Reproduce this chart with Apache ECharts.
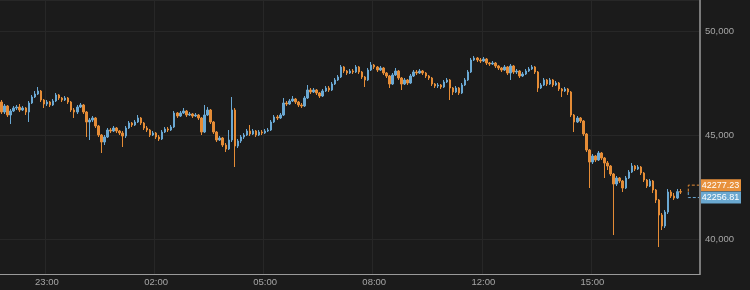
<!DOCTYPE html>
<html><head><meta charset="utf-8">
<script src="https://cdn.jsdelivr.net/npm/echarts@6/dist/echarts.min.js"></script>
<style>html,body{margin:0;padding:0;background:#1b1b1b;}#c{width:750px;height:290px;}</style>
</head><body><div id="c"></div>
<script>
// OHLC, 5-minute bars
const opens = [46586,46105,46394,45961,46153,46297,46345,46201,46297,46105,
46538,46826,46970,47115,46682,46490,46586,46442,46634,46922,
46778,46682,46778,46586,46201,46105,46345,46442,46105,45624,
45720,45817,45432,44999,44663,44903,45240,45192,45336,45192,
45095,44951,45336,45576,45480,45624,45817,45576,45336,45240,
44999,45095,44903,44807,45143,45288,45240,45384,46057,45913,
46057,46153,45961,46009,45913,45961,45817,45143,45961,46201,
45624,45143,44759,44855,44518,44326,44759,46201,44470,44711,
44903,44999,45192,45047,45192,44999,45143,45095,45192,45240,
45624,45865,45817,45961,46538,46490,46634,46730,46586,46442,
46394,46778,47163,47067,47163,47019,46874,47115,47259,47163,
47451,47644,47788,48269,48076,47980,48076,48028,48269,48028,
47788,47644,48124,48365,48269,48124,48221,47980,47836,47451,
47884,48076,47740,47451,47644,47499,47836,48028,47980,48076,
47980,47836,47740,47451,47355,47403,47307,47547,47644,47259,
47067,47259,47019,47403,47644,48028,48605,48701,48605,48557,
48653,48461,48413,48461,48317,48221,48124,48269,47980,48317,
48028,48076,47836,47932,48076,48172,48269,48028,47259,47403,
47644,47451,47644,47403,47499,47211,47115,47211,47067,45961,
45624,45817,45672,45047,44278,43701,43990,43797,44134,43893,
43653,43509,43124,42643,42932,42788,42451,42932,43220,43509,
43364,43461,43172,42836,42547,42788,42355,41874,41153,40624,
41297,42259,42066,41970,42277.23];
const closes = [46105,46394,45961,46153,46297,46345,46201,46297,46105,46538,
46826,46970,47115,46682,46490,46586,46442,46634,46922,46778,
46682,46778,46586,46201,46105,46345,46442,46105,45624,45720,
45817,45432,44999,44663,44903,45240,45192,45336,45192,45095,
44951,45336,45576,45480,45624,45817,45576,45336,45240,44999,
45095,44903,44807,45143,45288,45240,45384,46057,45913,46057,
46153,45961,46009,45913,45961,45817,45143,45961,46201,45624,
45143,44759,44855,44518,44326,44759,46201,44470,44711,44903,
44999,45192,45047,45192,44999,45143,45095,45192,45240,45624,
45865,45817,45961,46538,46490,46634,46730,46586,46442,46394,
46778,47163,47067,47163,47019,46874,47115,47259,47163,47451,
47644,47788,48269,48076,47980,48076,48028,48269,48028,47788,
47644,48124,48365,48269,48124,48221,47980,47836,47451,47884,
48076,47740,47451,47644,47499,47836,48028,47980,48076,47980,
47836,47740,47451,47355,47403,47307,47547,47644,47259,47067,
47259,47019,47403,47644,48028,48605,48701,48605,48557,48653,
48461,48413,48461,48317,48221,48124,48269,47980,48317,48028,
48076,47836,47932,48076,48172,48269,48028,47259,47403,47644,
47451,47644,47403,47499,47211,47115,47211,47067,45961,45624,
45817,45672,45047,44278,43701,43990,43797,44134,43893,43653,
43509,43124,42643,42932,42788,42451,42932,43220,43509,43364,
43461,43172,42836,42547,42788,42355,41874,41153,40624,41297,
42259,42066,41970,42277.23,42256.81];
const highs = [46682,46490,46442,46249,46394,46442,46490,46394,46345,46634,
46922,47115,47307,47163,46730,46682,46634,46730,47019,46970,
46826,46874,46826,46634,46297,46442,46538,46490,46153,45817,
45913,45865,45480,45047,44999,45336,45336,45432,45384,45240,
45192,45432,45672,45624,45720,45961,45865,45624,45432,45288,
45192,45143,44999,45240,45384,45384,45480,46153,46105,46153,
46297,46201,46105,46057,46057,46009,45865,46442,46345,46249,
45672,45192,44951,44903,44615,45240,46826,46297,44807,44999,
45095,45288,45480,45288,45240,45240,45240,45288,45336,45720,
45961,45961,46057,46778,46634,46730,46874,46778,46634,46538,
46874,47403,47259,47259,47211,47067,47211,47355,47355,47547,
47740,47884,48365,48317,48124,48172,48172,48365,48317,48076,
47836,48221,48509,48413,48317,48317,48269,48028,47884,47980,
48221,48124,47788,47740,47692,47932,48124,48124,48172,48124,
48028,47884,47788,47499,47499,47451,47644,47740,47692,47307,
47355,47307,47499,47740,48124,48701,48798,48750,48701,48750,
48701,48509,48557,48509,48365,48269,48365,48317,48413,48365,
48172,48124,48028,48172,48269,48365,48317,48076,47499,47740,
47692,47740,47692,47596,47547,47259,47307,47259,47115,46009,
45913,45865,45720,45095,44326,44086,44038,44230,44182,43942,
43749,43557,43172,43028,42980,42836,43028,43316,43653,43557,
43557,43509,43220,42884,42884,42836,42403,41922,41249,41393,
42403,42355,42211,42403,42403];
const lows = [46009,46009,45865,45528,46105,46201,46105,46153,45961,45624,
46490,46778,46922,46586,46297,46394,46345,46394,46586,46682,
46586,46634,46490,46105,45817,46009,46297,46009,44903,44759,
45624,45336,44903,44134,44518,44855,45095,45143,45095,44999,
44422,44855,45288,45384,45432,45576,45480,45240,45143,44903,
44951,44807,44711,44759,45095,45143,45192,45336,45817,45865,
46009,45865,45913,45817,45865,45720,44999,45095,45913,45528,
45047,44663,44711,44422,44182,44278,44663,43461,44374,44615,
44807,44951,44951,44999,44903,44951,44999,45047,45143,45192,
45576,45720,45768,45913,46394,46442,46586,46490,46345,46297,
46345,46730,46970,47019,46922,46778,46826,47067,47067,47115,
47403,47596,47740,47980,47884,47932,47932,47980,47932,47692,
47307,47596,48076,48172,48028,48076,47884,47740,47259,47403,
47836,47644,47163,47403,47403,47451,47788,47884,47932,47884,
47740,47644,47355,47259,47259,47211,47259,47499,46682,46922,
47019,46922,46970,47355,47596,47980,48557,48509,48461,48509,
48365,48317,48365,48221,48124,48028,48076,47884,47644,47932,
47932,47740,47788,47884,48028,48124,47932,47067,47211,47355,
47355,47403,47307,47355,47115,46826,47067,46922,45865,45143,
45576,45576,44951,44182,42451,43605,43701,43749,43797,42932,
43316,43028,40191,42547,42691,42259,42403,42884,43172,43268,
43316,43076,42739,42451,42499,42211,41730,39614,40432,40528,
41201,41970,41874,41922,42163];
const tickLabels = ['23:00','02:00','05:00','08:00','12:00','15:00'];
const priceTicks = [40000, 45000, 50000];
const lastPrices = [42277.23, 42256.81];

// time categories: 5-minute slots from 21:45, one-hour data gap after 09:55, empty slots at the right
const startMinute = 21*60+45, stepMinutes = 5, gapAfterIndex = 146, gapMinutes = 60, totalSlots = 231;
const categories = [];
for (let i = 0; i < totalSlots; i++) {
  let m = (startMinute + i*stepMinutes + (i > gapAfterIndex ? gapMinutes : 0)) % 1440;
  categories.push(String(Math.floor(m/60)).padStart(2,'0') + ':' + String(m%60).padStart(2,'0'));
}
const candleData = opens.map((o, i) => [o, closes[i], lows[i], highs[i]]);

const BLUE = '#6aa8d3', ORANGE = '#e58c36';
const FONT = 'Liberation Sans, Arial, sans-serif';
const chart = echarts.init(document.getElementById('c'), null, {renderer:'canvas'});
const isTick = (idx, val) => tickLabels.indexOf(val) >= 0;
chart.setOption({
  backgroundColor: '#1b1b1b',
  animation: false,
  grid: {left: 0, right: 50, top: 0, bottom: 16},
  xAxis: {
    type: 'category', data: categories, boundaryGap: true,
    axisLine: {lineStyle: {color: '#9a9a9a', width: 1}},
    axisTick: {show: false},
    axisLabel: {interval: isTick, color: '#a6a6a6', fontSize: 9.5, margin: 3, fontFamily: FONT},
    splitLine: {show: true, interval: isTick, lineStyle: {color: '#272727', width: 1}}
  },
  yAxis: {
    type: 'value', position: 'right', min: 38317, max: 51490, splitNumber: 2, scale: true,
    axisLine: {show: true, lineStyle: {color: '#7a7a7a', width: 2}},
    axisTick: {show: false},
    axisLabel: {color: '#a6a6a6', fontSize: 9.5, margin: 5, fontFamily: FONT,
      formatter: v => priceTicks.indexOf(v) >= 0 ? v.toLocaleString('en-US') : ''},
    splitLine: {show: true, lineStyle: {color: '#272727', width: 1}}
  },
  series: [{
    type: 'candlestick', data: candleData, barWidth: 2,
    itemStyle: {color: BLUE, color0: ORANGE, borderColor: BLUE, borderColor0: ORANGE, borderWidth: 1}
  }]
});

// last-price markers
const yA = chart.convertToPixel({yAxisIndex: 0}, lastPrices[0]);
const yB = chart.convertToPixel({yAxisIndex: 0}, lastPrices[1]);
const xLast = chart.convertToPixel({xAxisIndex: 0}, closes.length - 1);
const axisX = chart.getWidth() - 50;
const bx = xLast + 8;
const oy = yA - 6.5, by = yB + 5.5;
const boxW = 41, boxH = 12;
chart.setOption({
  graphic: [
    {type: 'polyline', shape: {points: [[bx, yA], [bx, oy], [axisX, oy]]}, style: {stroke: ORANGE, lineWidth: 1, lineDash: [3, 2], fill: null}, silent: true},
    {type: 'polyline', shape: {points: [[bx, yB], [bx, by], [axisX, by]]}, style: {stroke: BLUE, lineWidth: 1, lineDash: [3, 2], fill: null}, silent: true},
    {type: 'rect', shape: {x: axisX, y: oy - boxH/2, width: boxW, height: boxH}, style: {fill: '#e8913c'}, silent: true},
    {type: 'rect', shape: {x: axisX, y: by - boxH/2, width: boxW, height: boxH}, style: {fill: '#6aa8d0'}, silent: true},
    {type: 'text', x: axisX + boxW/2, y: oy, style: {text: lastPrices[0].toFixed(2), fill: '#ffffff', font: '9px ' + FONT, align: 'center', verticalAlign: 'middle'}, silent: true},
    {type: 'text', x: axisX + boxW/2, y: by, style: {text: lastPrices[1].toFixed(2), fill: '#ffffff', font: '9px ' + FONT, align: 'center', verticalAlign: 'middle'}, silent: true}
  ]
});
</script></body></html>
